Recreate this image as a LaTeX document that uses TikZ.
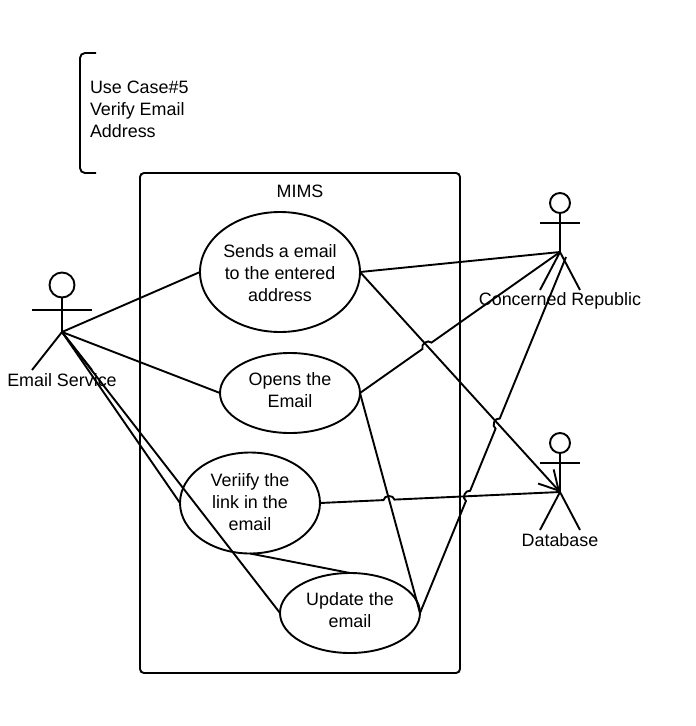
\documentclass[tikz,border=0pt]{standalone}
\usepackage{fontspec}
\setmainfont{Liberation Sans}
\usetikzlibrary{arrows.meta,calc,shapes.geometric}

\newcommand{\hop}[3]{-- ($(#2)!5.5pt!(#1)$) to[bend left=80,looseness=1.2] ($(#2)!5.5pt!(#3)$)}
\newcommand{\actor}[6]{
    \node[actorhead,minimum size=#5*2pt] (#1-head) at (#2,#3-#6) {};
    \coordinate (#1) at (#2,#3);
    \coordinate (#1-neck) at (#1-head.south);
    \coordinate (#1-armL) at (#2-#4,#3-#6+2*#5);
    \coordinate (#1-armR) at (#2+#4,#3-#6+2*#5);
    \coordinate (#1-legL) at (#2-#4,#3+38);
    \coordinate (#1-legR) at (#2+#4,#3+38);
    \draw (#1-neck) -- (#1);
    \draw (#1-armL) -- (#1-armR);
    \draw (#1-legL) -- (#1) -- (#1-legR);
}

\tikzset{
    usecase/.style={ellipse,draw,inner sep=0pt,outer sep=0pt},
    actorhead/.style={circle,draw,inner sep=0pt,outer sep=0pt},
    label/.style={inner sep=0pt,outer sep=0pt,align=center},
    barb/.style={-{Straight Barb[length=19pt,width=21pt]}}
}

\begin{document}
\begin{tikzpicture}[x=1pt,
            y=-1pt,
            line width=1.9pt,
            font=\fontsize{17.9pt}{21.8pt}\selectfont]

        \useasboundingbox (0,0) rectangle (696,726);

        \draw[rounded corners=5pt] (96,53) -- (80,53) -- (80,173) -- (96,173);
        \node[label,align=left,anchor=west] (title) at (90,109.5) {Use Case\#5\\Verify Email\\Address};

        \node[draw,rounded corners=4pt,minimum width=320pt,minimum height=500pt,outer sep=0pt] (mims) at (300,423) {};
        \node[label] (mimslabel) at (300,191) {MIMS};

        \node[usecase,minimum width=160pt,minimum height=120pt] (sends)  at (280,272) {};
        \node[usecase,minimum width=140pt,minimum height=80pt]  (opens)  at (290,393) {};
        \node[usecase,minimum width=140pt,minimum height=101pt] (verify) at (250,503) {};
        \node[usecase,minimum width=140pt,minimum height=80pt]  (update) at (350,613) {};

        \node[label] (sendslabel)  at (280,273) {Sends a email\\to the entered\\address};
        \node[label] (openslabel)  at (290,390) {Opens the\\Email};
        \node[label] (verifylabel) at (250,502) {Veriify the\\link in the\\email};
        \node[label] (updatelabel) at (350,610) {Update the\\email};

        \actor{service}{62}{332}{30}{12.5}{47}
        \actor{republic}{560}{252}{20}{10}{49}
        \actor{database}{560}{492}{20}{10}{49}

        \node[label] (servicelabel)  at (62,380)  {Email Service};
        \node[label] (republiclabel) at (560,301) {Concerned Republic};
        \node[label] (databaselabel) at (560,540) {Database};

        \coordinate (republicend) at ($(republic)+(6,5)$);
        \coordinate (crossA) at ($(opens.east)!.335!(republic)$);
        \coordinate (crossB) at ($(update.east)!.329!(republicend)$);
        \coordinate (crossC) at ($(update.east)!.532!(republicend)$);
        \coordinate (crossD) at ($(verify.east)!.2875!(database)$);

        \draw (service) -- (sends.west);
        \draw (service) -- (opens.west);
        \draw (service) -- (verify.west);
        \draw (service) -- (update.west);
        \draw (verify.south) -- (update.north);
        \draw (sends.east) -- (republic);
        \draw[barb] (sends.east) -- (database);
        \draw (opens.east) \hop{opens.east}{crossA}{republic} -- (republic);
        \draw (opens.east) -- (update.east);
        \draw (verify.east) \hop{verify.east}{crossD}{database} -- (database);
        \draw (update.east) \hop{update.east}{crossB}{republicend} \hop{update.east}{crossC}{republicend} -- (republicend);

    \end{tikzpicture}
\end{document}
